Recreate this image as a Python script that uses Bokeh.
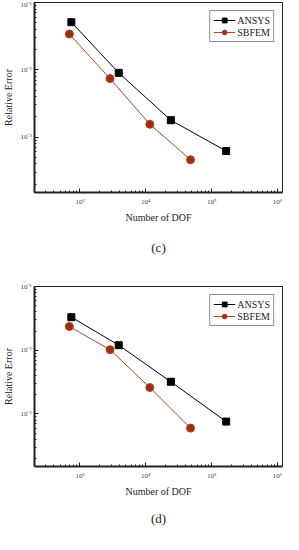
from bokeh.plotting import figure
from bokeh.layouts import column
from bokeh.models import Range1d, CustomJSTickFormatter, Legend, LegendItem, Title
from bokeh.embed import file_html
from bokeh.resources import INLINE

# ---- data ----
dof_ansys = [740, 3880, 24000, 166000]
dof_sbfem = [690, 2860, 11500, 47700]

err_c_ansys = [0.051, 0.0090, 0.00178, 0.00062]
err_c_sbfem = [0.034, 0.0074, 0.00155, 0.00046]

err_d_ansys = [0.033, 0.012, 0.0032, 0.00076]
err_d_sbfem = [0.0236, 0.0102, 0.0026, 0.00060]

series_names = ["ANSYS", "SBFEM"]
x_label = "Number of DOF"
y_label = "Relative Error"
captions = ["(c)", "(d)"]

x_lo, x_hi = 204, 1.19e6
y_lo, y_hi = 1.5e-4, 0.1

SERIF = "Liberation Serif"

fmt = CustomJSTickFormatter(code="""
const sup = {'-':'\u207b','0':'\u2070','1':'\u00b9','2':'\u00b2','3':'\u00b3','4':'\u2074','5':'\u2075','6':'\u2076','7':'\u2077','8':'\u2078','9':'\u2079'};
const e = Math.round(Math.log10(tick));
return '10' + String(e).split('').map(c => sup[c]).join('');
""")


def make_panel(ya, ys, caption, h, top, bottom, cap_standoff):
    p = figure(width=283, height=h, x_axis_type="log", y_axis_type="log",
               x_range=Range1d(x_lo, x_hi), y_range=Range1d(y_lo, y_hi),
               output_backend="svg", toolbar_location=None,
               min_border_left=27, min_border_right=1,
               min_border_top=top, min_border_bottom=bottom)
    p.grid.visible = False
    p.outline_line_color = "#222222"
    p.outline_line_width = 1
    p.background_fill_color = "white"
    p.border_fill_color = "white"

    for ax in (p.xaxis[0], p.yaxis[0]):
        ax.ticker.num_minor_ticks = 10
        ax.formatter = fmt
        ax.axis_line_width = 2
        ax.axis_line_color = "#222222"
        ax.major_tick_in = 4
        ax.major_tick_out = 0
        ax.minor_tick_in = 2
        ax.minor_tick_out = 0
        ax.major_tick_line_color = "#222222"
        ax.minor_tick_line_color = "#222222"
        ax.major_label_text_font = SERIF
        ax.major_label_text_font_size = "7px"
        ax.major_label_text_color = "#444444"
        ax.axis_label_text_font = SERIF
        ax.axis_label_text_font_size = "10px"
        ax.axis_label_text_font_style = "normal"
        ax.axis_label_text_color = "#222222"
    p.xaxis.axis_label = x_label
    p.yaxis.axis_label = y_label
    p.xaxis.major_label_standoff = 5
    p.xaxis.axis_label_standoff = 3
    p.yaxis.major_label_standoff = 3
    p.yaxis.axis_label_standoff = 3

    la = p.line(dof_ansys, ya, line_color="black", line_width=1)
    ma = p.scatter(dof_ansys, ya, marker="square", size=7,
                   fill_color="black", line_color="black")
    ls = p.line(dof_sbfem, ys, line_color="#A8482A", line_width=1)
    ms = p.scatter(dof_sbfem, ys, marker="circle", size=8,
                   fill_color="#8E3512", line_color="#D0361E", line_width=1)

    legend = Legend(items=[LegendItem(label=series_names[0], renderers=[la, ma]),
                           LegendItem(label=series_names[1], renderers=[ls, ms])],
                    location="top_right")
    legend.label_text_font = SERIF
    legend.label_text_font_size = "10px"
    legend.label_text_color = "#222222"
    legend.border_line_color = "#222222"
    legend.border_line_width = 1
    legend.margin = 8
    legend.padding = 3
    legend.spacing = 0
    legend.glyph_width = 22
    legend.glyph_height = 12
    legend.label_height = 12
    legend.label_standoff = 2
    legend.background_fill_alpha = 1
    p.add_layout(legend)

    t = Title(text=caption, align="center", text_font=SERIF,
              text_font_size="13px", text_font_style="normal",
              text_color="#222222", standoff=cap_standoff)
    p.add_layout(t, "below")
    return p


p1 = make_panel(err_c_ansys, err_c_sbfem, captions[0], 267, 2, 73, 25)
p2 = make_panel(err_d_ansys, err_d_sbfem, captions[1], 267, 19, 55, 18)

layout = column(p1, p2, spacing=0)
open("out.html", "w").write(file_html(layout, INLINE))
